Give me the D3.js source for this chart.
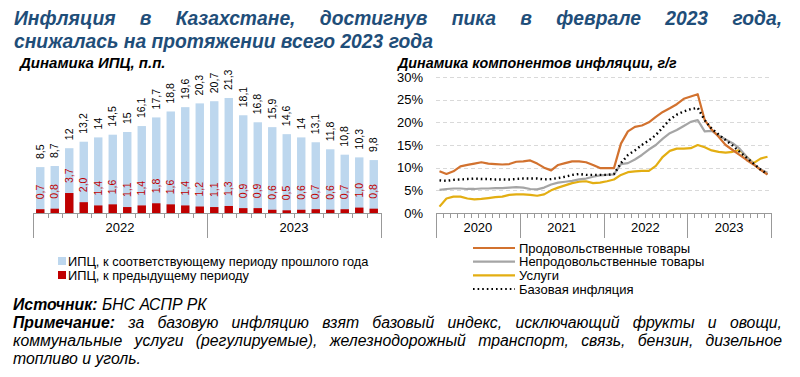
<!DOCTYPE html>
<html>
<head>
<meta charset="utf-8">
<script src="https://cdn.jsdelivr.net/npm/d3@7"></script>
<style>
  body { margin: 0; background: #fff; }
  svg { font-family: 'Liberation Sans', Arial, sans-serif; }
</style>
</head>
<body>
<svg id="chart" width="800" height="377"></svg>
<script>
// Left chart: CPI, 24 months of 2022-2023
var cpiYears = ['2022', '2023'];
var cpiYoY = [8.5, 8.7, 12, 13.2, 14, 14.5, 15, 16.1, 17.7, 18.8, 19.6, 20.3,
  20.7, 21.3, 18.1, 16.8, 15.9, 14.6, 14, 13.1, 11.8, 10.8, 10.3, 9.8];
var cpiMoM = [0.7, 0.8, 3.7, 2.0, 1.4, 1.6, 1.1, 1.4, 1.8, 1.6, 1.4, 1.2,
  1.1, 1.3, 0.9, 0.9, 0.6, 0.5, 0.6, 0.7, 0.6, 0.7, 1.0, 0.8];

// Right chart: components, monthly Jan 2020 - Dec 2023
var compYears = ['2020', '2021', '2022', '2023'];
var food = [9.2, 8.6, 9.2, 10.3, 10.6, 10.9, 11.2, 10.9, 10.8, 10.7, 10.8, 11.3,
  11.4, 11.6, 10.9, 10.0, 9.4, 10.6, 11.0, 11.4, 11.4, 11.2, 10.6, 9.9,
  9.9, 9.9, 15.3, 18.0, 19.0, 19.3, 20.0, 21.2, 22.3, 23.1, 24.0, 25.2,
  25.7, 26.2, 20.5, 18.4, 16.8, 15.0, 13.9, 12.8, 11.7, 10.7, 9.5, 8.5];
var nonFood = [5.1, 5.3, 5.4, 5.4, 5.3, 5.3, 5.4, 5.4, 5.5, 5.5, 5.6, 5.7,
  5.6, 5.3, 5.2, 5.6, 6.3, 6.7, 6.9, 7.1, 7.4, 7.6, 8.0, 8.3,
  8.4, 8.5, 10.8, 11.0, 11.8, 12.8, 14.0, 15.0, 16.4, 17.6, 18.3, 19.2,
  20.1, 20.5, 18.0, 18.1, 17.1, 16.2, 15.4, 14.2, 12.4, 10.8, 9.6, 8.9];
var services = [1.4, 3.2, 3.6, 3.6, 3.2, 3.0, 3.1, 3.3, 3.5, 3.6, 4.0, 4.1,
  4.1, 4.0, 3.8, 4.1, 5.0, 5.6, 6.1, 6.6, 6.9, 7.0, 6.6, 6.7,
  7.0, 7.4, 8.4, 9.0, 9.2, 9.3, 9.3, 10.4, 12.4, 13.7, 14.2, 14.2,
  14.3, 15.0, 14.5, 13.8, 13.5, 13.3, 13.5, 13.9, 12.4, 11.0, 12.0, 12.4];
var core = [7.2, 7.1, 7.3, 7.4, 7.5, 7.6, 7.5, 7.5, 7.4, 7.4, 7.4, 7.5,
  7.6, 7.6, 7.6, 7.4, 7.5, 7.7, 8.0, 8.4, 8.6, 8.4, 8.4, 8.4,
  8.4, 8.6, 11.0, 12.8, 13.8, 15.0, 16.0, 17.2, 18.9, 20.6, 21.7, 22.4,
  22.9, 23.2, 20.5, 18.6, 17.3, 16.1, 14.9, 13.5, 12.2, 10.9, 9.6, 8.6];
var percentTicks = [0, 5, 10, 15, 20, 25, 30];

var titleLines = ['Инфляция в Казахстане, достигнув пика в феврале 2023 года,',
  'снижалась на протяжении всего 2023 года'];
var noteLines = ['Примечание: за базовую инфляцию взят базовый индекс, исключающий фрукты и овощи,',
  'коммунальные услуги (регулируемые), железнодорожный транспорт, связь, бензин, дизельное',
  'топливо и уголь.'];

var svg = d3.select('#chart');

// spread words of a line between x0 and x1
function justify(g, text, x0, x1, y, styleFn) {
  var words = text.split(' ');
  var nodes = words.map(function (w, i) {
    var t = g.append('text').attr('y', y).text(w);
    styleFn(t, i);
    return t;
  });
  var widths = nodes.map(function (t) { return t.node().getComputedTextLength(); });
  var gap = (x1 - x0 - d3.sum(widths)) / (words.length - 1);
  var x = x0;
  nodes.forEach(function (t, i) {
    t.attr('x', x);
    x += widths[i] + gap;
  });
}

// Title
var titleG = svg.append('g');
function titleStyle(t) {
  t.attr('font-size', 19.3).attr('font-weight', 'bold').attr('font-style', 'italic').attr('fill', '#1f4e79');
}
justify(titleG, titleLines[0], 14, 782, 25, titleStyle);
titleStyle(titleG.append('text').attr('x', 14).attr('y', 48).text(titleLines[1]));

// ---------- Left chart ----------
var lx = d3.scaleBand().domain(d3.range(24)).range([33, 381]).paddingInner(0.42).paddingOuter(0.21);
var ly = d3.scaleLinear().domain([0, 25]).range([213, 78]);

svg.append('text').attr('x', 20).attr('y', 68)
  .attr('font-size', 15).attr('font-weight', 'bold').attr('font-style', 'italic')
  .text('Динамика ИПЦ, п.п.');

svg.selectAll('.yoy').data(cpiYoY).enter().append('rect')
  .attr('x', function (d, i) { return lx(i); })
  .attr('y', function (d) { return ly(d); })
  .attr('width', lx.bandwidth())
  .attr('height', function (d) { return ly(0) - ly(d); })
  .attr('fill', '#bdd7ee');

svg.selectAll('.mom').data(cpiMoM).enter().append('rect')
  .attr('x', function (d, i) { return lx(i); })
  .attr('y', function (d) { return ly(d); })
  .attr('width', lx.bandwidth())
  .attr('height', function (d) { return ly(0) - ly(d); })
  .attr('fill', '#c00000');

function rotLabel(val, i, yPos, color) {
  var cx = lx(i) + lx.bandwidth() / 2 + 3.7;
  svg.append('text')
    .attr('transform', 'translate(' + cx + ',' + yPos + ') rotate(-90)')
    .attr('font-size', 10.5).attr('fill', color)
    .text(String(val).replace('.', ','));
}
cpiYoY.forEach(function (d, i) { rotLabel(d, i, ly(d) - 8, '#000'); });
cpiMoM.forEach(function (d, i) { rotLabel(d.toFixed(1), i, ly(d) - 10, '#c00000'); });

var laxis = svg.append('g').attr('stroke', '#999').attr('stroke-width', 1);
laxis.append('line').attr('x1', 33).attr('x2', 381).attr('y1', 213.5).attr('y2', 213.5);
d3.range(25).forEach(function (i) {
  var x = Math.round(33 + i * lx.step()) + 0.5;
  laxis.append('line').attr('x1', x).attr('x2', x).attr('y1', 213)
    .attr('y2', i % 12 === 0 ? 238 : 218);
});
cpiYears.forEach(function (yr, k) {
  svg.append('text').attr('x', 33 + (k * 12 + 6) * lx.step()).attr('y', 232)
    .attr('text-anchor', 'middle').attr('font-size', 13).text(yr);
});

// Left legend
var lLegend = [['#bdd7ee', 'ИПЦ, к соответствующему периоду прошлого года'],
  ['#c00000', 'ИПЦ, к предыдущему периоду']];
lLegend.forEach(function (d, i) {
  svg.append('rect').attr('x', 58).attr('y', 257 + i * 14).attr('width', 8).attr('height', 8).attr('fill', d[0]);
  svg.append('text').attr('x', 68).attr('y', 266 + i * 14).attr('font-size', 12.8).text(d[1]);
});

// ---------- Right chart ----------
var rx = d3.scaleLinear().domain([0, 48]).range([436, 771]);
var ry = d3.scaleLinear().domain([0, 30]).range([213, 77]);

svg.append('text').attr('x', 398).attr('y', 68)
  .attr('font-size', 14.3).attr('font-weight', 'bold').attr('font-style', 'italic')
  .text('Динамика компонентов инфляции, г/г');

percentTicks.forEach(function (t) {
  if (t > 0) {
    svg.append('line').attr('x1', 436).attr('x2', 771)
      .attr('y1', Math.round(ry(t)) + 0.5).attr('y2', Math.round(ry(t)) + 0.5)
      .attr('stroke', '#d9d9d9').attr('stroke-dasharray', '4,3');
  }
  svg.append('text').attr('x', 423).attr('y', ry(t) + 4.5)
    .attr('text-anchor', 'end').attr('font-size', 13).text(t + '%');
});

var raxis = svg.append('g').attr('stroke', '#999').attr('stroke-width', 1);
raxis.append('line').attr('x1', 436).attr('x2', 771).attr('y1', 213.5).attr('y2', 213.5);
d3.range(49).forEach(function (i) {
  var x = Math.round(rx(i)) + 0.5;
  raxis.append('line').attr('x1', x).attr('x2', x).attr('y1', 213)
    .attr('y2', i % 12 === 0 ? 238 : 218);
});
compYears.forEach(function (yr, k) {
  svg.append('text').attr('x', rx(k * 12 + 6)).attr('y', 232)
    .attr('text-anchor', 'middle').attr('font-size', 13).text(yr);
});

var line = d3.line()
  .x(function (d, i) { return rx(i + 0.5); })
  .y(function (d) { return ry(d); });

var series = [
  { name: 'Продовольственные товары', values: food, color: '#d2722f', dash: null },
  { name: 'Непродовольственные товары', values: nonFood, color: '#a5a5a5', dash: null },
  { name: 'Услуги', values: services, color: '#e3ae12', dash: null },
  { name: 'Базовая инфляция', values: core, color: '#000', dash: '1.6,3' }
];
// draw order: services, nonfood, food, core on top
[2, 1, 0, 3].forEach(function (k) {
  var s = series[k];
  svg.append('path').datum(s.values).attr('d', line)
    .attr('fill', 'none').attr('stroke', s.color)
    .attr('stroke-width', s.dash ? 2.4 : 2.2)
    .attr('stroke-dasharray', s.dash)
    .attr('stroke-linejoin', 'round');
});

series.forEach(function (s, i) {
  var y = 248 + i * 13.7;
  svg.append('line').attr('x1', 473).attr('x2', 515).attr('y1', y).attr('y2', y)
    .attr('stroke', s.color).attr('stroke-width', s.dash ? 2 : 2.2)
    .attr('stroke-dasharray', s.dash);
  svg.append('text').attr('x', 519).attr('y', y + 4.5).attr('font-size', 13).text(s.name);
});

// ---------- Notes ----------
var noteG = svg.append('g');
function noteStyle(t, i) {
  t.attr('font-size', 15.8).attr('font-style', 'italic');
  if (i === 0) t.attr('font-weight', 'bold');
}
var src = svg.append('text').attr('x', 13).attr('y', 310).attr('font-size', 15.8).attr('font-style', 'italic');
src.append('tspan').attr('font-weight', 'bold').text('Источник:');
src.append('tspan').text(' БНС АСПР РК');
justify(noteG, noteLines[0], 13, 782, 328, noteStyle);
justify(noteG, noteLines[1], 13, 782, 346, function (t) { noteStyle(t, 1); });
noteStyle(noteG.append('text').attr('x', 13).attr('y', 364).text(noteLines[2]), 1);
</script>
</body>
</html>
